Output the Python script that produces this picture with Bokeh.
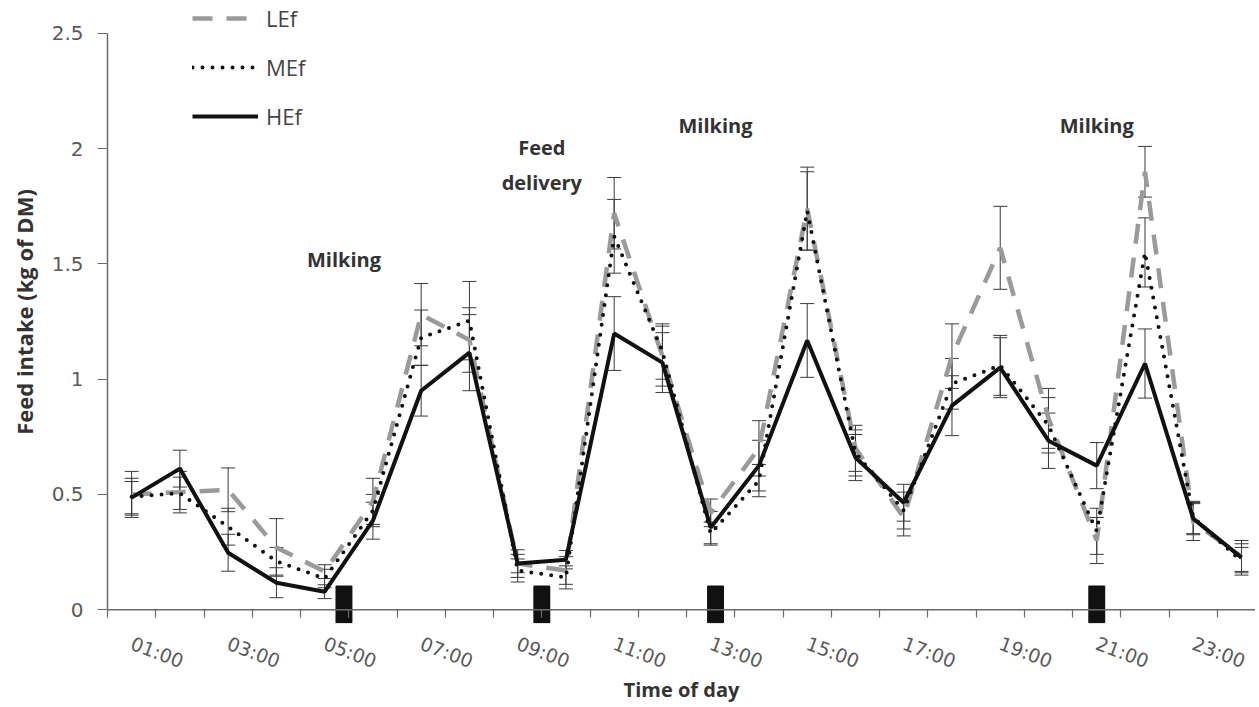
from bokeh.plotting import figure
from bokeh.models import (ColumnDataSource, Range1d, FixedTicker, Whisker, TeeHead,
                          Legend, LegendItem, Span)
from bokeh.core.properties import value
from bokeh.embed import file_html
from bokeh.resources import INLINE

# ---------------- data ----------------
hour_labels = ["01:00", "02:00", "03:00", "04:00", "05:00", "06:00", "07:00", "08:00",
               "09:00", "10:00", "11:00", "12:00", "13:00", "14:00", "15:00", "16:00",
               "17:00", "18:00", "19:00", "20:00", "21:00", "22:00", "23:00", "24:00"]

lef = [0.50, 0.51, 0.52, 0.27, 0.165, 0.47, 1.28, 1.17, 0.20, 0.17, 1.72, 1.10,
       0.42, 0.70, 1.74, 0.70, 0.40, 1.10, 1.57, 0.83, 0.30, 1.90, 0.38, 0.23]
lef_se = [0.10, 0.09, 0.095, 0.125, 0.03, 0.10, 0.135, 0.14, 0.06, 0.06, 0.155, 0.13,
          0.06, 0.12, 0.18, 0.10, 0.08, 0.14, 0.18, 0.13, 0.10, 0.11, 0.08, 0.07]

mef = [0.49, 0.505, 0.36, 0.21, 0.135, 0.43, 1.18, 1.254, 0.17, 0.14, 1.62, 1.12,
       0.33, 0.56, 1.73, 0.68, 0.43, 0.98, 1.06, 0.80, 0.34, 1.55, 0.40, 0.21]
mef_se = [0.08, 0.07, 0.08, 0.06, 0.04, 0.07, 0.12, 0.17, 0.05, 0.05, 0.16, 0.12,
          0.05, 0.07, 0.17, 0.10, 0.08, 0.11, 0.13, 0.12, 0.10, 0.15, 0.07, 0.06]

hef = [0.486, 0.612, 0.247, 0.117, 0.078, 0.386, 0.95, 1.115, 0.20, 0.217, 1.198, 1.072,
       0.356, 0.625, 1.168, 0.66, 0.464, 0.885, 1.05, 0.733, 0.625, 1.068, 0.395, 0.226]
hef_se = [0.07, 0.08, 0.08, 0.065, 0.03, 0.08, 0.11, 0.165, 0.04, 0.04, 0.16, 0.13,
          0.07, 0.11, 0.16, 0.10, 0.08, 0.13, 0.13, 0.12, 0.10, 0.15, 0.07, 0.06]

event_hours = [5.4, 9.5, 13.1, 21.0]
event_labels = ["Milking", "Feed\ndelivery", "Milking", "Milking"]
event_label_y = [1.52, 1.93, 2.10, 2.10]

y_ticks = [0, 0.5, 1, 1.5, 2, 2.5]
y_tick_labels = ["0", "0.5", "1", "1.5", "2", "2.5"]

# ---------------- figure ----------------
x = list(range(1, len(hour_labels) + 1))

p = figure(width=1255, height=707, output_backend="svg", toolbar_location=None,
           x_range=Range1d(0.5, 24.29), y_range=Range1d(-0.06, 2.643),
           min_border_left=107, min_border_right=0, min_border_top=0, min_border_bottom=84)
p.outline_line_color = None
p.grid.visible = False
p.background_fill_color = "white"
p.border_fill_color = "white"

axis_col = "#6a6a6a"
tick_font = "DejaVu Sans"
title_font = "Open Sans"

# y axis
p.yaxis.ticker = FixedTicker(ticks=y_ticks, minor_ticks=[])
p.yaxis.major_label_overrides = {t: l for t, l in zip(y_ticks, y_tick_labels)}
p.yaxis.bounds = (0, 2.5)
p.yaxis.axis_line_color = axis_col
p.yaxis.axis_line_width = 1.5
p.yaxis.major_tick_line_color = axis_col
p.yaxis.major_tick_out = 10
p.yaxis.major_tick_in = 0
p.yaxis.major_label_text_font = tick_font
p.yaxis.major_label_text_font_size = "20px"
p.yaxis.major_label_text_color = "#595959"
p.yaxis.major_label_standoff = 14
p.yaxis.axis_label = "Feed intake (kg of DM)"
p.yaxis.axis_label_text_font = title_font
p.yaxis.axis_label_text_font_style = "bold"
p.yaxis.axis_label_text_font_size = "22px"
p.yaxis.axis_label_text_color = "#333333"
p.yaxis.axis_label_standoff = 10

# x axis (drawn at the frame bottom; its rule is the Span at y = 0)
odd_ticks = x[0::2]
p.xaxis.ticker = FixedTicker(ticks=odd_ticks, minor_ticks=[h + 0.5 for h in range(0, 25)])
p.xaxis.major_label_overrides = {h: hour_labels[h - 1] for h in odd_ticks}
p.xaxis.axis_line_color = None
p.xaxis.major_tick_out = 0
p.xaxis.major_tick_in = 0
p.xaxis.minor_tick_line_color = axis_col
p.xaxis.minor_tick_line_width = 1.2
p.xaxis.minor_tick_in = 14
p.xaxis.minor_tick_out = -6
p.xaxis.major_label_orientation = -0.36
p.xaxis.major_label_text_font = tick_font
p.xaxis.major_label_text_font_size = "19px"
p.xaxis.major_label_text_color = "#595959"
p.xaxis.major_label_standoff = 19
p.xaxis.axis_label = "Time of day"
p.xaxis.axis_label_text_font = title_font
p.xaxis.axis_label_text_font_style = "bold"
p.xaxis.axis_label_text_font_size = "20px"
p.xaxis.axis_label_text_color = "#333333"
p.xaxis.axis_label_standoff = -9

p.add_layout(Span(location=0, dimension="width", line_color=axis_col, line_width=1.5))

# ---------------- error bars ----------------
bar_col = "#3a3a3a"
for vals, se in [(lef, lef_se), (mef, mef_se), (hef, hef_se)]:
    src = ColumnDataSource(dict(x=x, upper=[v + s for v, s in zip(vals, se)],
                                lower=[max(v - s, 0) for v, s in zip(vals, se)]))
    w = Whisker(source=src, base="x", upper="upper", lower="lower",
                line_color=bar_col, line_width=1,
                upper_head=TeeHead(size=14, line_color=bar_col, line_width=1),
                lower_head=TeeHead(size=14, line_color=bar_col, line_width=1))
    p.add_layout(w)

# ---------------- lines ----------------
r_l = p.line(x, lef, line_color="#9a9a9a", line_width=4.5, line_dash="20 14")
r_m = p.line(x, mef, line_color="#111111", line_width=4, line_dash="0 10", line_cap="round")
r_h = p.line(x, hef, line_color="#111111", line_width=4)

# ---------------- event markers & labels ----------------
p.quad(left=[h - 0.155 for h in event_hours], right=[h + 0.155 for h in event_hours],
       bottom=-0.055, top=0.1, fill_color="#111111", line_color="#111111",
       line_width=2, line_join="round")
p.text(x=event_hours, y=event_label_y, text=event_labels, text_font=value(title_font),
       text_font_style="bold", text_font_size="20px", text_align="center",
       text_baseline="middle", text_color="#333333", text_line_height=1.3)

legend = Legend(items=[LegendItem(label="LEf", renderers=[r_l]),
                       LegendItem(label="MEf", renderers=[r_m]),
                       LegendItem(label="HEf", renderers=[r_h])],
                location=(85, 492), glyph_width=66, glyph_height=20, label_height=20,
                spacing=19, padding=0, margin=0, label_standoff=8,
                label_text_font="Open Sans", label_text_font_size="22px",
                label_text_color="#444444", border_line_alpha=0, background_fill_alpha=0)
p.add_layout(legend)

open("out.html", "w").write(file_html(p, INLINE))
